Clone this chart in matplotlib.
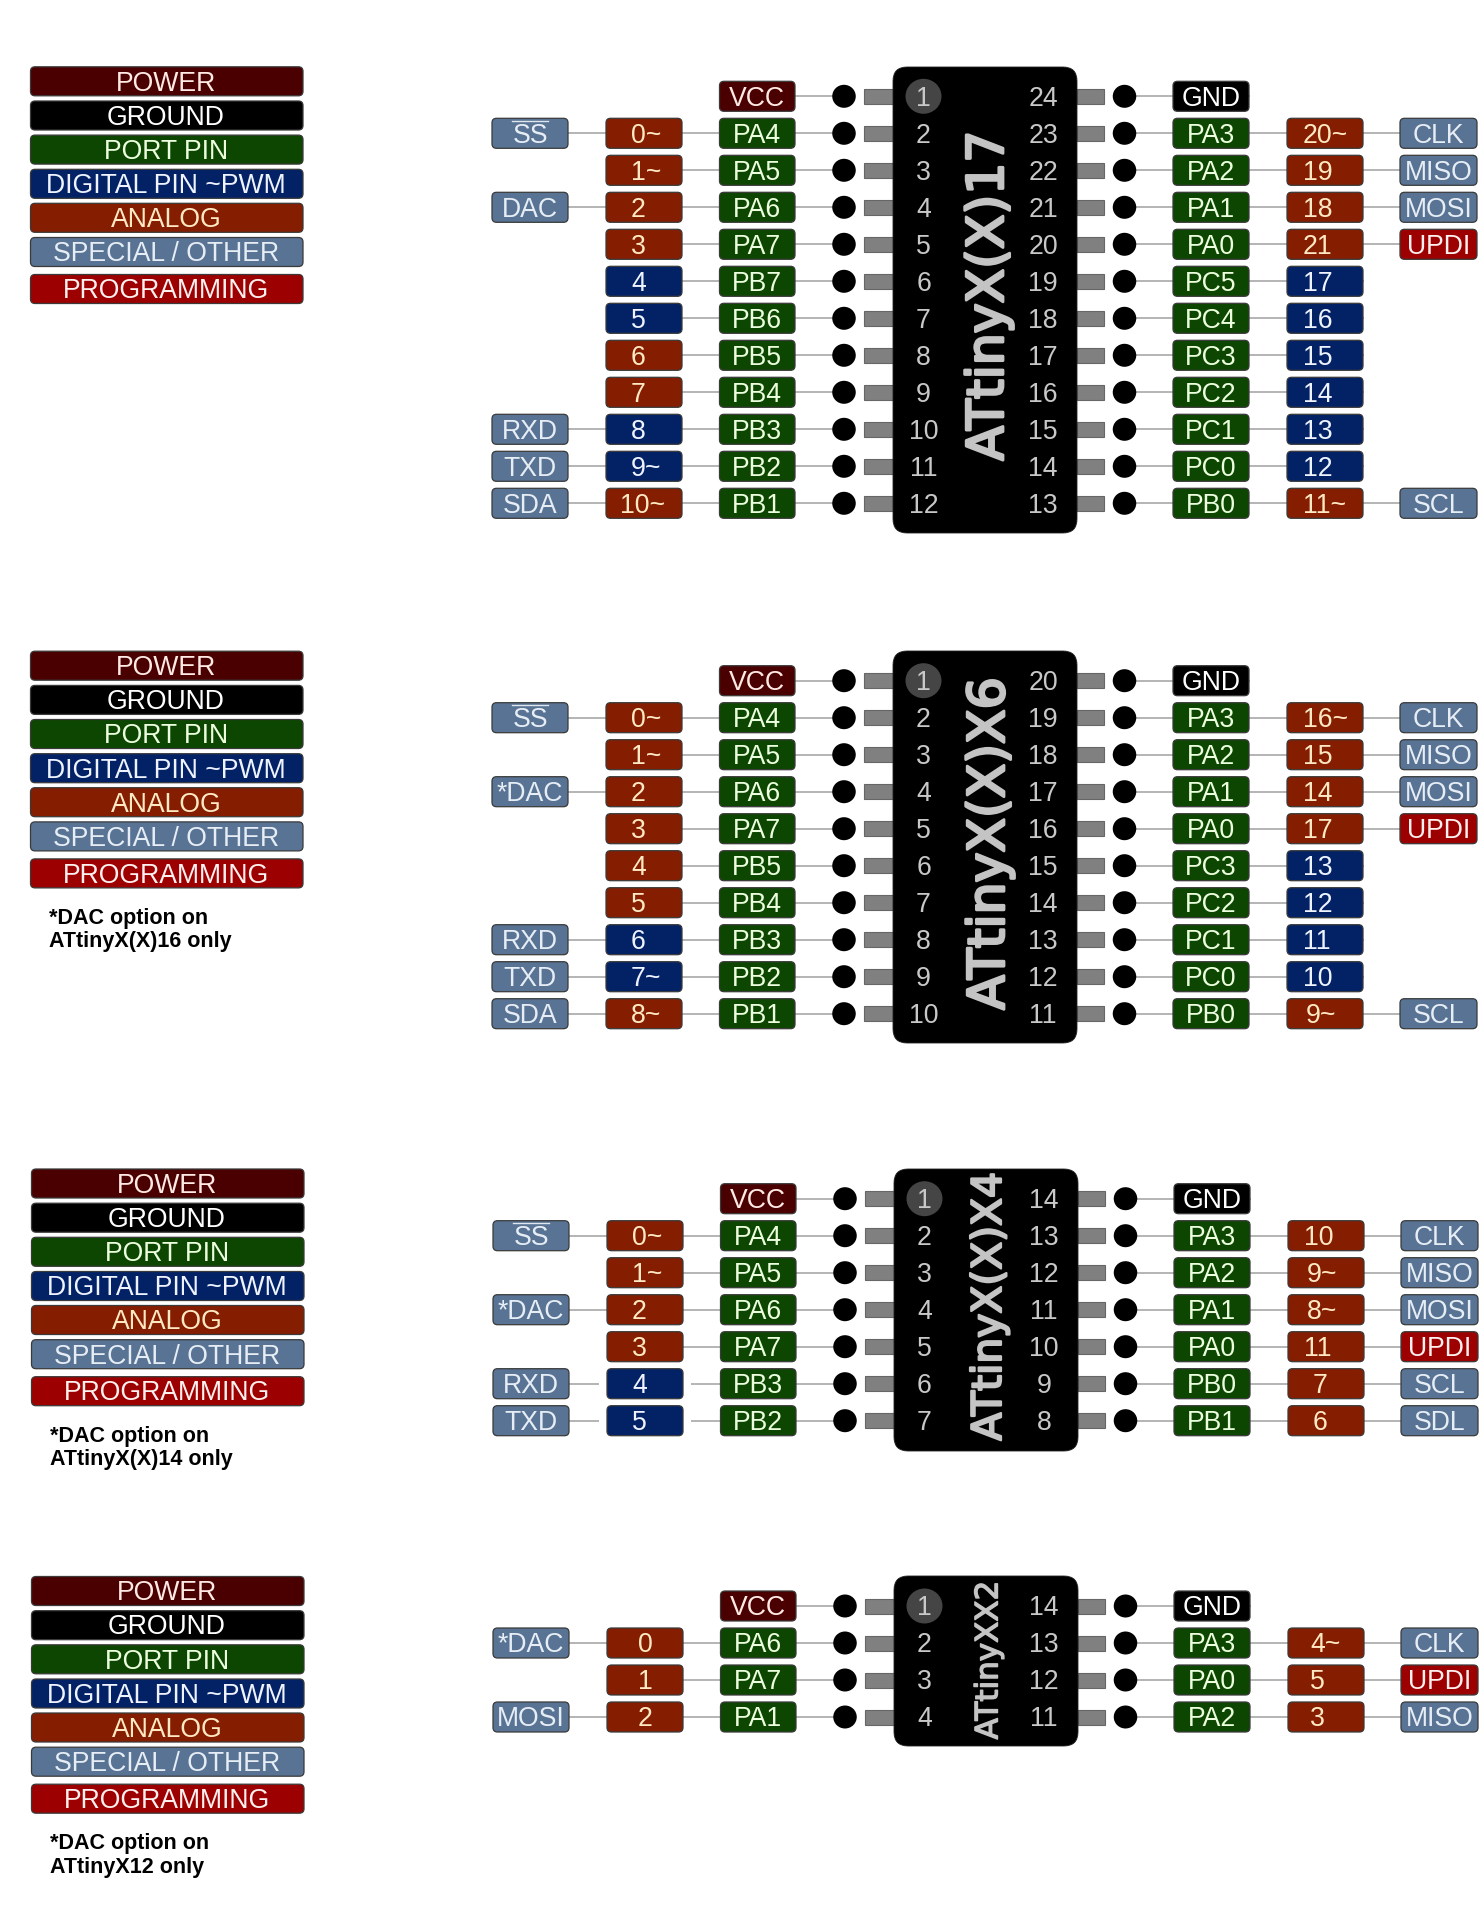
import matplotlib
matplotlib.use('Agg')
import matplotlib.pyplot as plt
import matplotlib.patheffects as pe
from matplotlib.patches import FancyBboxPatch, Ellipse, Rectangle

plt.rcParams['font.family'] = ['Liberation Sans', 'DejaVu Sans']

# legend
legend_labels = ['POWER', 'GROUND', 'PORT PIN', 'DIGITAL PIN ~PWM', 'ANALOG', 'SPECIAL / OTHER', 'PROGRAMMING']
legend_kinds = ['P', 'G', 'R', 'D', 'A', 'S', 'U']

# ATtinyX(X)17
c17_left_special = ['', 'SS', '', 'DAC', '', '', '', '', '', 'RXD', 'TXD', 'SDA']
c17_left_digital = ['', '0~', '1~', '2', '3', '4', '5', '6', '7', '8', '9~', '10~']
c17_left_kinds = ['', 'A', 'A', 'A', 'A', 'D', 'D', 'A', 'A', 'D', 'D', 'A']
c17_left_port = ['VCC', 'PA4', 'PA5', 'PA6', 'PA7', 'PB7', 'PB6', 'PB5', 'PB4', 'PB3', 'PB2', 'PB1']
c17_right_port = ['GND', 'PA3', 'PA2', 'PA1', 'PA0', 'PC5', 'PC4', 'PC3', 'PC2', 'PC1', 'PC0', 'PB0']
c17_right_digital = ['', '20~', '19', '18', '21', '17', '16', '15', '14', '13', '12', '11~']
c17_right_kinds = ['', 'A', 'A', 'A', 'A', 'D', 'D', 'D', 'D', 'D', 'D', 'A']
c17_right_special = ['', 'CLK', 'MISO', 'MOSI', 'UPDI', '', '', '', '', '', '', 'SCL']
c17_left_pins = ['1', '2', '3', '4', '5', '6', '7', '8', '9', '10', '11', '12']
c17_right_pins = ['24', '23', '22', '21', '20', '19', '18', '17', '16', '15', '14', '13']

# ATtinyX(X)X6
c16_left_special = ['', 'SS', '', '*DAC', '', '', '', 'RXD', 'TXD', 'SDA']
c16_left_digital = ['', '0~', '1~', '2', '3', '4', '5', '6', '7~', '8~']
c16_left_kinds = ['', 'A', 'A', 'A', 'A', 'A', 'A', 'D', 'D', 'A']
c16_left_port = ['VCC', 'PA4', 'PA5', 'PA6', 'PA7', 'PB5', 'PB4', 'PB3', 'PB2', 'PB1']
c16_right_port = ['GND', 'PA3', 'PA2', 'PA1', 'PA0', 'PC3', 'PC2', 'PC1', 'PC0', 'PB0']
c16_right_digital = ['', '16~', '15', '14', '17', '13', '12', '11', '10', '9~']
c16_right_kinds = ['', 'A', 'A', 'A', 'A', 'D', 'D', 'D', 'D', 'A']
c16_right_special = ['', 'CLK', 'MISO', 'MOSI', 'UPDI', '', '', '', '', 'SCL']
c16_left_pins = ['1', '2', '3', '4', '5', '6', '7', '8', '9', '10']
c16_right_pins = ['20', '19', '18', '17', '16', '15', '14', '13', '12', '11']

# ATtinyX(X)X4
c14_left_special = ['', 'SS', '', '*DAC', '', 'RXD', 'TXD']
c14_left_digital = ['', '0~', '1~', '2', '3', '4', '5']
c14_left_kinds = ['', 'A', 'A', 'A', 'A', 'D', 'D']
c14_left_port = ['VCC', 'PA4', 'PA5', 'PA6', 'PA7', 'PB3', 'PB2']
c14_right_port = ['GND', 'PA3', 'PA2', 'PA1', 'PA0', 'PB0', 'PB1']
c14_right_digital = ['', '10', '9~', '8~', '11', '7', '6']
c14_right_kinds = ['', 'A', 'A', 'A', 'A', 'A', 'A']
c14_right_special = ['', 'CLK', 'MISO', 'MOSI', 'UPDI', 'SCL', 'SDL']
c14_left_pins = ['1', '2', '3', '4', '5', '6', '7']
c14_right_pins = ['14', '13', '12', '11', '10', '9', '8']

# ATtinyXX2
c12_left_special = ['', '*DAC', '', 'MOSI']
c12_left_digital = ['', '0', '1', '2']
c12_left_kinds = ['', 'A', 'A', 'A']
c12_left_port = ['VCC', 'PA6', 'PA7', 'PA1']
c12_right_port = ['GND', 'PA3', 'PA0', 'PA2']
c12_right_digital = ['', '4~', '5', '3']
c12_right_kinds = ['', 'A', 'A', 'A']
c12_right_special = ['', 'CLK', 'UPDI', 'MISO']
c12_left_pins = ['1', '2', '3', '4']
c12_right_pins = ['14', '13', '12', '11']

colors = {'P': '#4a0000', 'G': '#000000', 'R': '#0c4600', 'D': '#032266',
          'A': '#851d00', 'S': '#587394', 'U': '#9d0000'}
text_colors = {'P': '#ffe9e4', 'G': '#ffffff', 'R': '#ecffdf', 'D': '#eef3ff',
               'A': '#ffe9c4', 'S': '#e6edf5', 'U': '#fff0f0'}

LABEL_PT = 19.2
LABEL_CAP = 18.6
ROW = 37.0

fig = plt.figure(figsize=(14.83, 19.2), dpi=100)
ax = fig.add_axes([0, 0, 1, 1])
ax.set_xlim(0, 1483)
ax.set_ylim(1920, 0)
ax.axis('off')


def box(x0, x1, yc, h, kind, r=4.5):
    ax.add_patch(FancyBboxPatch((x0, yc - h / 2), x1 - x0, h,
                                boxstyle='round,pad=0,rounding_size=%s' % r,
                                fc=colors[kind], ec='#3a3a3a', lw=0.9, zorder=3))


def label(x, yc, s, color, ha='center', fs=LABEL_PT, cap=LABEL_CAP, **kw):
    ax.text(x, yc + cap / 2, s, color=color, ha=ha, va='baseline', fontsize=fs, zorder=5, **kw)


def draw_legend(dx, y, note=None):
    offs = [0, 34.2, 68.3, 102.5, 136.5, 170.7, 207.7]
    for name, kind, off in zip(legend_labels, legend_kinds, offs):
        box(30.5 + dx, 303 + dx, y + off, 29, kind)
        label(166 + dx, y + off, name, text_colors[kind], fs=19.2, cap=18.6)
    if note:
        for i, line in enumerate(note):
            label(49 + dx, y + 251 + 23 * i, line, 'black', ha='left', fs=15.5, cap=15,
                  fontweight='bold')


def draw_chip(dx, y0, top, bottom, title, title_px, title_y, title_x, stroke,
              ls, ld, lk, lp, rp, rd, rk, rs, lpins, rpins, center_left=False, right_single=None,
              halo=False):
    n = len(lp)
    # body
    ax.add_patch(FancyBboxPatch((893 + dx, top), 184, bottom - top,
                                boxstyle='round,pad=0,rounding_size=14', fc='black', ec='#222222',
                                lw=0.6, zorder=3))
    ax.add_patch(Ellipse((923.5 + dx, y0), 36, 35, fc='#454545', ec='none', zorder=4))
    t = ax.text(title_x, title_y, title, rotation=90, rotation_mode='anchor', ha='center', va='baseline',
                fontsize=title_px * 0.72, color='#c4c4c4', family='DejaVu Sans', zorder=5)
    t.set_path_effects([pe.withStroke(linewidth=stroke, foreground='#c4c4c4')])

    for i in range(n):
        y = y0 + i * ROW
        # wires go under the boxes
        x_left = 568 if ls[i] else (682 if ld[i] else 795)
        ax.plot([x_left + dx, 844 + dx], [y, y], color='#b4b4b4', lw=1.4, zorder=1)
        x_right = 1400 if rs[i] else (1363 if rd[i] else 1249)
        ax.plot([1124.5 + dx, x_right + dx], [y, y], color='#b4b4b4', lw=1.4, zorder=1)

        # stubs and dots
        ax.add_patch(Rectangle((864 + dx, y - 7.5), 29, 15, fc='#808080', ec='#666666', lw=0.8, zorder=2))
        ax.add_patch(Rectangle((1077 + dx, y - 7.5), 27, 15, fc='#808080', ec='#666666', lw=0.8, zorder=2))
        ax.add_patch(Ellipse((844 + dx, y), 23.5, 23, fc='black', ec='none', zorder=3))
        ax.add_patch(Ellipse((1124.5 + dx, y), 23.5, 23, fc='black', ec='none', zorder=3))

        # pin numbers
        label(923.5 + dx, y, lpins[i], '#c8c8c8')
        label(1043 + dx, y, rpins[i], '#c8c8c8')

        # ports
        k = 'P' if i == 0 else 'R'
        box(719.5 + dx, 795 + dx, y, 30, k)
        label(757 + dx, y, lp[i], text_colors[k])
        k = 'G' if i == 0 else 'R'
        box(1173 + dx, 1249 + dx, y, 30, k)
        label(1211 + dx, y, rp[i], text_colors[k])

        # arduino numbers, those are left aligned in the original
        if ld[i]:
            if halo and lk[i] == 'D':
                # X4 chip has small gaps in the wire around the blue boxes
                ax.add_patch(Rectangle((598 + dx, y - 5), 92, 10, fc='white', ec='none', zorder=2))
            box(606 + dx, 682 + dx, y, 30, lk[i])
            if center_left:
                label(644 + dx, y, ld[i], text_colors[lk[i]])
            else:
                xs = 620 if len(ld[i].rstrip('~')) > 1 else 631
                label(xs + dx, y, ld[i], text_colors[lk[i]], ha='left')
        if rd[i]:
            box(1287 + dx, 1363 + dx, y, 30, rk[i])
            num = rd[i].rstrip('~')
            if len(num) > 1:
                xs = 1303
            elif right_single:
                xs = right_single
            else:
                xs = 1306 if rd[i].endswith('~') else 1312
            label(xs + dx, y, rd[i], text_colors[rk[i]], ha='left')

        # special functions
        if ls[i]:
            box(492 + dx, 568 + dx, y, 30, 'S')
            label(530 + dx, y, ls[i], text_colors['S'])
            if ls[i] == 'SS':
                ax.plot([512 + dx, 548 + dx], [y - 12.5, y - 12.5], color='#dfe6ee', lw=1.0, zorder=5)
        if rs[i]:
            k = 'U' if rs[i] == 'UPDI' else 'S'
            box(1400 + dx, 1477 + dx, y, 30, k)
            label(1438.5 + dx, y, rs[i], text_colors[k])


draw_legend(0, 81.3)
draw_chip(0, 96.3, 67, 533, 'ATtinyX(X)17', 50.5, 295.5, 1003, 2,
          c17_left_special, c17_left_digital, c17_left_kinds, c17_left_port,
          c17_right_port, c17_right_digital, c17_right_kinds, c17_right_special,
          c17_left_pins, c17_right_pins)

draw_legend(0, 665.7, ['*DAC option on', 'ATtinyX(X)16 only'])
draw_chip(0, 680.7, 651, 1043, 'ATtinyX(X)X6', 50.5, 843.5, 1004, 2,
          c16_left_special, c16_left_digital, c16_left_kinds, c16_left_port,
          c16_right_port, c16_right_digital, c16_right_kinds, c16_right_special,
          c16_left_pins, c16_right_pins)

draw_legend(1, 1183.5, ['*DAC option on', 'ATtinyX(X)14 only'])
draw_chip(1, 1198.7, 1169, 1451, 'ATtinyX(X)X4', 40.8, 1306.5, 1001, 1.6,
          c14_left_special, c14_left_digital, c14_left_kinds, c14_left_port,
          c14_right_port, c14_right_digital, c14_right_kinds, c14_right_special,
          c14_left_pins, c14_right_pins, halo=True)

draw_legend(1, 1591, ['*DAC option on', 'ATtinyX12 only'])
draw_chip(1, 1606, 1576, 1746, 'ATtinyXX2', 31, 1660, 997.5, 1.0,
          c12_left_special, c12_left_digital, c12_left_kinds, c12_left_port,
          c12_right_port, c12_right_digital, c12_right_kinds, c12_right_special,
          c12_left_pins, c12_right_pins, center_left=True, right_single=1309)

fig.savefig('out.png', dpi=100)
